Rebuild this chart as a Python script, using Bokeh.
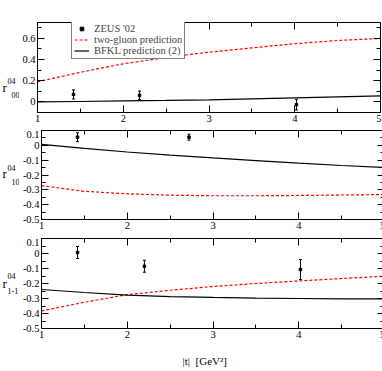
from bokeh.plotting import figure
from bokeh.models import (LinearAxis, FixedTicker, Legend, LegendItem,
                          Whisker, TeeHead, ColumnDataSource, Range1d)
from bokeh.layouts import column, row
from bokeh.core.properties import value
from bokeh.embed import file_html
from bokeh.resources import INLINE

# ---------------- data ----------------
t_grid = [1.0, 1.5, 2.0, 2.5, 3.0, 3.5, 4.0, 4.5, 5.0]

r00_two_gluon = [0.19, 0.28, 0.36, 0.42, 0.47, 0.51, 0.55, 0.58, 0.60]
r00_bfkl = [0.0, 0.004, 0.009, 0.014, 0.02, 0.029, 0.038, 0.047, 0.057]
r00_t = [1.42, 2.19, 4.02]
r00_val = [0.071, 0.062, -0.026]
r00_err = [0.043, 0.04, 0.05]

r10_two_gluon = [-0.272, -0.31, -0.327, -0.336, -0.34, -0.34, -0.338, -0.335, -0.332]
r10_bfkl = [0.007, -0.02, -0.045, -0.066, -0.085, -0.103, -0.12, -0.136, -0.15]
r10_t = [1.42, 2.72]
r10_val = [0.055, 0.055]
r10_err = [0.03, 0.02]

r1m1_two_gluon = [-0.383, -0.325, -0.274, -0.245, -0.22, -0.2, -0.183, -0.167, -0.151]
r1m1_bfkl = [-0.24, -0.26, -0.277, -0.287, -0.293, -0.297, -0.3, -0.302, -0.303]
r1m1_t = [1.42, 2.2, 4.02]
r1m1_val = [0.007, -0.085, -0.107]
r1m1_err = [0.04, 0.04, 0.067]

x_ticks = [1, 2, 3, 4, 5]
x_minor = [1.5, 2.5, 3.5, 4.5]
x_labels = ["1", "2", "3", "4", "5"]

y1_ticks = [0.0, 0.2, 0.4, 0.6]
y1_minor = [-0.1, 0.1, 0.3, 0.5, 0.7]
y1_labels = ["0", "0.2", "0.4", "0.6"]

y23_ticks = [-0.5, -0.4, -0.3, -0.2, -0.1, 0.0, 0.1]
y23_minor = [-0.45, -0.35, -0.25, -0.15, -0.05, 0.05]
y23_labels = ["-0.5", "-0.4", "-0.3", "-0.2", "-0.1", "0", "0.1"]

legend_labels = ["ZEUS '02", "two-gluon prediction", "BFKL prediction (2)"]
x_title = "|t|\u2002[GeV²]\u2003\u2002"

FONT = "Liberation Serif"
LEGEND_FONT = "'Liberation Serif', serif"
RED = "#ff0000"
LABEL_W = 19


def style_axis(ax, ticks, minor, labels=None):
    ax.ticker = FixedTicker(ticks=ticks, minor_ticks=minor)
    ax.major_tick_in = 7
    ax.major_tick_out = 0
    ax.minor_tick_in = 4
    ax.minor_tick_out = 0
    ax.axis_line_color = "black"
    ax.major_tick_line_color = "black"
    ax.minor_tick_line_color = "black"
    if labels is None:
        ax.major_label_text_font_size = "0px"
        ax.major_label_standoff = 0
    else:
        ax.major_label_overrides = {t: l for t, l in zip(ticks, labels)}
        ax.major_label_text_font = FONT
        ax.major_label_text_font_size = "10.5px"
        ax.major_label_text_color = "black"


def make_panel(fh, top_b, bottom_b, yr, yt, ym, yl, two, bfkl, dt, dv, de):
    p = figure(frame_width=343, frame_height=fh,
               x_range=Range1d(1, 5), y_range=Range1d(*yr),
               output_backend="svg", toolbar_location=None,
               min_border_left=18, min_border_right=1,
               min_border_top=top_b, min_border_bottom=bottom_b,
               background_fill_color="white", border_fill_color="white")
    p.xgrid.visible = False
    p.ygrid.visible = False
    p.outline_line_color = "black"
    style_axis(p.below[0], x_ticks, x_minor, x_labels)
    p.below[0].major_label_standoff = 2
    style_axis(p.left[0], yt, ym, yl)
    p.left[0].major_label_standoff = 2
    top = LinearAxis()
    style_axis(top, x_ticks, x_minor)
    p.add_layout(top, "above")
    right = LinearAxis()
    style_axis(right, yt, ym)
    p.add_layout(right, "right")

    r_two = p.line(t_grid, two, line_color=RED, line_width=1.2, line_dash="3 2")
    r_bfkl = p.line(t_grid, bfkl, line_color="black", line_width=1.2)
    src = ColumnDataSource(dict(x=dt, y=dv,
                                lo=[v - e for v, e in zip(dv, de)],
                                hi=[v + e for v, e in zip(dv, de)]))
    p.add_layout(Whisker(source=src, base="x", lower="lo", upper="hi",
                         dimension="height", line_color="black", line_width=1,
                         upper_head=TeeHead(size=3, line_color="black", line_width=1),
                         lower_head=TeeHead(size=3, line_color="black", line_width=1)))
    r_pts = p.scatter("x", "y", source=src, marker="square", size=2.5,
                      fill_color="black", line_color="black")
    return p, r_pts, r_two, r_bfkl


def label_fig(height, sub, r_y, sup_y, sub_y, sub_x):
    q = figure(frame_width=LABEL_W, frame_height=height,
               x_range=Range1d(0, LABEL_W), y_range=Range1d(height, 0),
               output_backend="svg", toolbar_location=None,
               min_border=0, outline_line_color=None,
               background_fill_color="white", border_fill_color="white")
    q.axis.visible = False
    q.grid.visible = False
    q.text(x=[2], y=[r_y], text=["r"], text_font=value(FONT),
           text_font_size="13px", text_baseline="middle", text_color="black")
    q.text(x=[7], y=[sup_y], text=["04"], text_font=value(FONT),
           text_font_size="8px", text_baseline="middle", text_color="black")
    q.text(x=[sub_x], y=[sub_y], text=[sub], text_font=value(FONT),
           text_font_size="8px", text_baseline="middle", text_color="black")
    return q


p1, pts1, two1, bfkl1 = make_panel(90, 22, 18, (-0.1, 0.75), y1_ticks, y1_minor, y1_labels,
                                   r00_two_gluon, r00_bfkl, r00_t, r00_val, r00_err)
p2, _, _, _ = make_panel(89, 0, 19, (-0.5, 0.1), y23_ticks, y23_minor, y23_labels,
                         r10_two_gluon, r10_bfkl, r10_t, r10_val, r10_err)
p3, _, _, _ = make_panel(90, 0, 40, (-0.5, 0.1), y23_ticks, y23_minor, y23_labels,
                         r1m1_two_gluon, r1m1_bfkl, r1m1_t, r1m1_val, r1m1_err)

ax3 = p3.below[0]
ax3.axis_label = x_title
ax3.axis_label_text_font = FONT
ax3.axis_label_text_font_size = "11px"
ax3.axis_label_text_font_style = "normal"
ax3.axis_label_text_color = "black"
ax3.axis_label_standoff = 14

q1 = label_fig(130, "00", 65, 58, 72, 11)
q2 = label_fig(108, "10", 43, 37, 51, 11)
q3 = label_fig(130, "1-1", 45, 37, 52, 7)

legend = Legend(items=[LegendItem(label=legend_labels[0], renderers=[pts1]),
                       LegendItem(label=legend_labels[1], renderers=[two1]),
                       LegendItem(label=legend_labels[2], renderers=[bfkl1])],
                location=(34, 53),
                label_text_font_size="10.5px",
                label_height=9, glyph_height=9, glyph_width=15,
                label_standoff=5, padding=2, spacing=0, margin=0,
                border_line_color="black", border_line_width=1,
                background_fill_color="white", background_fill_alpha=1.0)
legend.label_text_font = LEGEND_FONT
legend.label_text_font_style = "normal"
p1.add_layout(legend)

layout = column(row(q1, p1), row(q2, p2), row(q3, p3))
open("out.html", "w").write(file_html(layout, INLINE))
